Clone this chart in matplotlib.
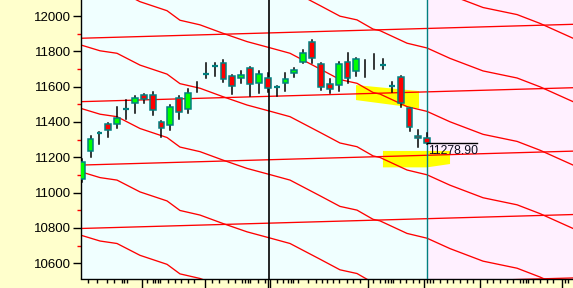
import numpy as np
import matplotlib
matplotlib.use("Agg")
import matplotlib.pyplot as plt
from matplotlib.patches import Rectangle

plt.rcParams['font.family'] = ['Liberation Sans', 'DejaVu Sans']

# candles (open, high, low, close); nan open/close = bar without body
opens = [11077, 11236, 11339, 11389, 11389, 11473, 11507, 11554, 11553, 11398,
         11383, 11534, 11472, np.nan, 11672, 11719, 11736, 11659, 11647, 11704,
         11619, 11647, 11600, 11619, 11676, 11741, 11855, 11727, 11613, 11609,
         11738, 11689, np.nan, np.nan, 11723, 11605, 11653, 11477, 11322, 11311]
highs = [11190, 11321, 11345, 11394, 11487, 11524, 11547, 11558, 11570, 11406,
         11496, 11547, 11585, 11628, 11732, 11732, 11749, 11666, 11689, 11711,
         11687, 11677, 11602, 11676, 11704, 11808, 11864, 11734, 11642, 11738,
         11789, 11762, 11751, 11785, 11757, 11628, 11660, 11480, 11355, 11339]
lows = [11060, 11202, 11275, 11315, 11368, 11415, 11453, 11507, 11440, 11313,
        11355, 11415, 11453, 11571, 11647, 11660, 11628, 11558, 11622, 11547,
        11566, 11571, 11549, 11577, 11656, 11732, 11732, 11581, 11566, 11577,
        11622, 11662, 11656, 11700, 11700, 11571, 11483, 11349, 11260, 11275]
closes = [11175, 11304, 11339, 11355, 11424, 11473, 11536, 11528, 11468, 11364,
          11485, 11455, 11566, np.nan, 11672, 11719, 11643, 11604, 11666, 11615,
          11672, 11591, 11600, 11642, 11694, 11789, 11761, 11600, 11585, 11727,
          11651, 11755, np.nan, np.nan, 11723, 11605, 11506, 11370, 11311, 11278.90]
last_price = 11278.90

# falling curves: one base curve, repeated every 359 points
curve_x = [-0.1, 2.07, 3.98, 6.58, 9.63, 11.09, 13.35, 15.95, 18.66, 21.25, 23.51,
           26.9, 29.15, 31.07, 32.88, 33.67, 36.72, 38.97, 41.57, 45.3, 49.14,
           51.73, 55.5]
curve_base = [12195, 12162, 12148, 12081, 12030, 11976, 11950, 11902, 11855, 11820,
              11789, 11700, 11640, 11619, 11567, 11558, 11487, 11460, 11401, 11330,
              11290, 11240, 11155]
# near-flat lines
flat_x = [-0.1, 55.5]
flat_base = [11874, 11953]
step = 359

# yellow zones
zone1_x = [30.96, 38.07, 38.07, 30.96]
zone1_y = [11609, 11575, 11477, 11524]
zone2_x = [34.0, 41.57, 41.57, 38.97, 34.0]
zone2_y = [11236, 11236, 11162, 11143, 11143]

short_ticks = [0.74, 1.76, 2.82, 3.68, 4.51, 4.81, 5.08, 7.34, 8.01, 8.27, 8.58, 8.84,
               9.71, 10.53, 11.21, 12.03, 12.71, 14.67, 15.53, 16.55, 17.30, 18.06,
               18.43, 18.74, 19.0, 19.86, 20.69, 22.01, 22.75, 23.32, 23.62, 23.88,
               24.45, 25.58, 26.41, 27.09, 27.65, 28.33, 29.07, 29.91, 30.65, 31.41,
               32.91, 33.67, 34.23, 34.60, 34.91, 35.17, 35.93, 36.60, 37.36, 38.10,
               39.01, 39.31, 39.68, 40.44, 41.20, 41.94, 42.70, 43.45, 44.20, 45.71,
               46.46, 47.21, 47.97, 48.71, 49.47, 49.84, 50.15, 50.41, 50.97, 51.73,
               52.48, 53.23, 54.55, 54.92]
long_ticks = [6.77, 20.99, 21.25, 38.67, 44.96]
red_ticks = [13.92, 32.35, 54.18]

divider = 21.17
last_idx = 39

fig = plt.figure(figsize=(5.73, 2.88), dpi=100, facecolor='#FFFFCC')
ax = fig.add_axes([81/573, 1-278.5/288, 492/573, 278.5/288])
ax.set_facecolor('#F0FFFF')
ax.set_xlim(-0.08, 55.45)
ax.set_ylim(10513.8, 12090.6)
ax.axvspan(last_idx, 56, color='#FFF0FF', zorder=0, lw=0)

ax.fill(zone1_x, zone1_y, color='#FFFF00', lw=0, zorder=1)
ax.fill(zone2_x, zone2_y, color='#FFFF00', lw=0, zorder=1)

for k in range(-3, 6):
    ax.plot(curve_x, np.array(curve_base) - k*step, color='#FF0000', lw=0.95,
            zorder=2)
    ax.plot(flat_x, np.array(flat_base) - k*step, color='#FF0000', lw=0.95,
            zorder=2)

ax.axvline(divider, color='black', lw=1.2, zorder=3)
ax.axvline(last_idx, color='#008080', lw=1, zorder=3)

w = 0.66
for i in range(len(highs)):
    ax.plot([i, i], [lows[i], highs[i]], color='black', lw=1.1, zorder=4)
    o, c = opens[i], closes[i]
    if np.isnan(o):
        continue
    if abs(c - o) < 1:
        ax.plot([i - w/2, i + w/2], [o, o], color='#008080', lw=1.6, zorder=5,
                solid_capstyle='butt')
        continue
    col = '#00FF00' if c > o else '#FF0000'
    ax.add_patch(Rectangle((i - w/2, min(o, c)), w, abs(c - o), facecolor=col,
                           edgecolor='#008080', lw=1.1, zorder=5))

ax.plot([last_idx, 44.6], [last_price, last_price], color='black', lw=1, zorder=6)
ax.text(last_idx + 0.1, last_price - 8, f'{last_price:.2f}', ha='left', va='top',
        fontsize=8.8, color='#101020', zorder=7)

ax.set_yticks(np.arange(10600, 12001, 200))
ax.set_yticks(np.arange(10700, 12001, 200), minor=True)
ax.tick_params(axis='y', which='major', length=6, width=1, direction='out',
               labelsize=9.5, pad=1.5, colors='black')
ax.tick_params(axis='y', which='minor', length=3, width=1, color='red')
all_ticks = short_ticks + long_ticks + red_ticks
ax.set_xticks(all_ticks)
ax.set_xticklabels([])
ax.tick_params(axis='x', which='major', length=3, width=1, direction='out')
for t, pos in zip(ax.xaxis.get_major_ticks(), all_ticks):
    if pos in long_ticks:
        t.tick1line.set_markersize(7)
    elif pos in red_ticks:
        t.tick1line.set_markersize(7)
        t.tick1line.set_color('red')

for s in ['top', 'right']:
    ax.spines[s].set_visible(False)
ax.spines['left'].set_linewidth(1)
ax.spines['bottom'].set_linewidth(1)

fig.savefig('out.png', dpi=100, facecolor=fig.get_facecolor())
